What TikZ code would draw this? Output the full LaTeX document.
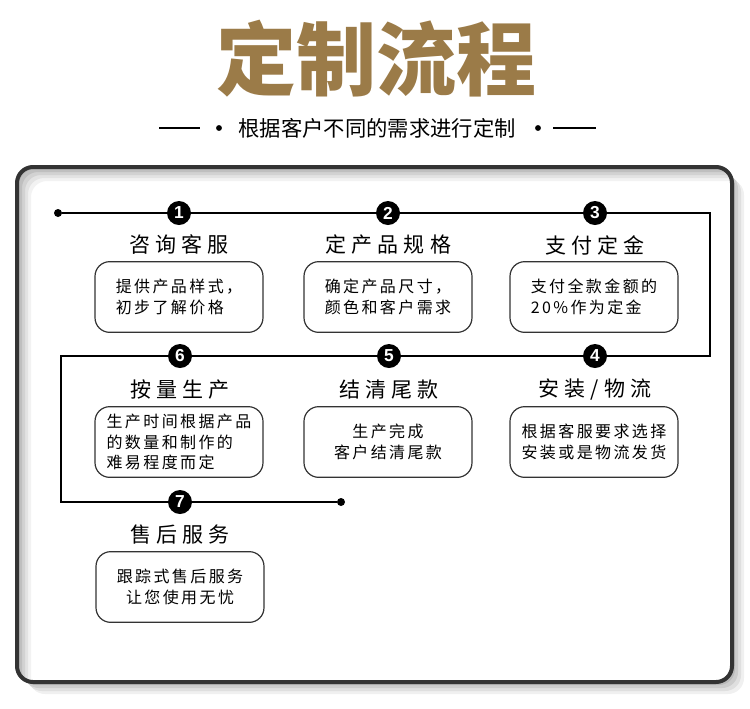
\documentclass[tikz,border=0pt]{standalone}
\usepackage{fontspec}
\setmainfont{Noto Sans CJK SC}
\newfontfamily\headfont{Noto Sans CJK SC}[LetterSpace=25]
\newfontfamily\cardfont{Noto Sans CJK SC}[LetterSpace=15]
\newfontfamily\numfont{Liberation Sans}
\usetikzlibrary{positioning}
\definecolor{titlebrown}{RGB}{155,123,72}
\definecolor{framegray}{RGB}{51,51,51}

\tikzset{
  num/.style={circle, fill=black, text=white, inner sep=0pt, minimum size=18pt,
    font=\numfont\bfseries\fontsize{13}{13}\selectfont},
  head/.style={font=\headfont\fontsize{15.75}{16}\selectfont},
  card/.style={draw=black!80, line width=0.9pt, rounded corners=11pt,
    minimum width=126pt, minimum height=53pt, align=left,
    font=\cardfont\fontsize{12}{15.5}\selectfont},
  flow/.style={line width=2.2pt},
  enddot/.style={circle, fill=black, inner sep=0pt, minimum size=6pt}
}

\begin{document}
\begin{tikzpicture}[x=0.75pt, y=-0.75pt]
    \useasboundingbox (0,0) rectangle (750,708);

    % Title and subtitle
    \node[font=\bfseries\fontsize{60}{60}\selectfont, text=titlebrown] (title) at (376,59) {定制流程};
    \node[font=\fontsize{16}{16}\selectfont] (sub) at (377,128) {根据客户不同的需求进行定制};
    \fill (219,128) circle (2.2pt);
    \fill (538,128) circle (2.2pt);
    \draw[line width=1.1pt] (159,128) -- (200,128);
    \draw[line width=1.1pt] (553,128) -- (596,128);

    % Frame - outer shadow, inner shadow, border
    \foreach \d/\c in {12/gray!12, 9/gray!25, 6/gray!40, 3/gray!55}
        \fill[\c, rounded corners=12pt, shift={(\d,\d)}] (17,167) rectangle (732,682);
    \fill[white, rounded corners=12pt] (17,167) rectangle (732,682);
    \begin{scope}
        \clip[rounded corners=12pt] (17,167) rectangle (732,682);
        \foreach \d/\c in {14/gray!10, 11/gray!22, 8/gray!35, 5/gray!50, 2/gray!65}
            \fill[\c, even odd rule] (0,0) rectangle (750,708)
                [rounded corners=12pt] (17+\d,167+\d) rectangle (732+\d,682+\d);
    \end{scope}
    \draw[framegray, line width=3pt, rounded corners=12pt] (17,167) rectangle (732,682);

    % Step 1 - 咨询客服
    \node[num] (n1) at (179,213) {1};
    \node[head] (h1) at (179,245) {咨询客服};
    \node[card] (b1) at (179,297) {提供产品样式，\\初步了解价格};

    % Step 2 - 定产品规格
    \node[num] (n2) at (388,213) {2};
    \node[head] (h2) at (388,245) {定产品规格};
    \node[card] (b2) at (388,297) {确定产品尺寸，\\颜色和客户需求};

    % Step 3 - 支付定金
    \node[num] (n3) at (595,213) {3};
    \node[head] (h3) at (595,245) {支付定金};
    \node[card] (b3) at (594,297) {支付全款金额的\\20\%作为定金};

    % Step 4 - 安装/物流
    \node[num] (n4) at (595,356) {4};
    \node[head] (h4) at (595,390) {安装/物流};
    \node[card] (b4) at (594,442) {根据客服要求选择\\安装或是物流发货};

    % Step 5 - 结清尾款
    \node[num] (n5) at (389,356) {5};
    \node[head] (h5) at (389,390) {结清尾款};
    \node[card, align=center] (b5) at (388,442) {生产完成\\客户结清尾款};

    % Step 6 - 按量生产
    \node[num] (n6) at (180,356) {6};
    \node[head] (h6) at (180,390) {按量生产};
    \node[card] (b6) at (179,442) {生产时间根据产品\\的数量和制作的\\难易程度而定};

    % Step 7 - 售后服务
    \node[num] (n7) at (180,502) {7};
    \node[head] (h7) at (180,535) {售后服务};
    \node[card, align=center] (b7) at (180,587) {跟踪式售后服务\\让您使用无忧};

    % Flow line
    \node[enddot] (s) at (58,213) {};
    \node[enddot] (e) at (341,502) {};
    \coordinate (c1) at (710,213);
    \coordinate (c2) at (710,356);
    \coordinate (c3) at (61,356);
    \coordinate (c4) at (61,502);
    \draw[flow] (s) -- (n1) -- (n2) -- (n3) -- (c1) -- (c2) -- (n4) -- (n5) -- (n6)
        -- (c3) -- (c4) -- (n7) -- (e);
\end{tikzpicture}
\end{document}
